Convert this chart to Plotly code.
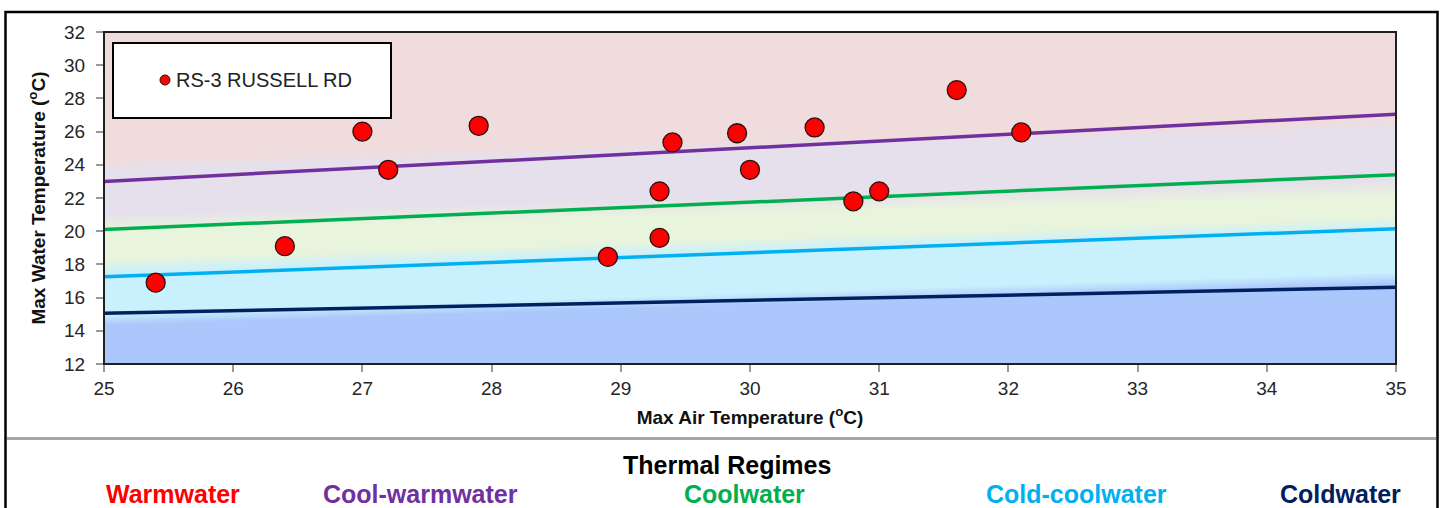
import numpy as np
import plotly.graph_objects as go

# Site observations: max air temperature vs max water temperature (deg C)
air_temp = [25.4, 26.4, 27.0, 27.2, 27.9, 28.9, 29.3, 29.3, 29.4, 29.9, 30.0, 30.5, 30.8, 31.0, 31.6, 32.1]
water_temp = [16.9, 19.1, 26.0, 23.7, 26.35, 18.45, 22.4, 19.6, 25.35, 25.9, 23.7, 26.25, 21.8, 22.4, 28.5, 25.95]
site_name = "RS-3 RUSSELL RD"

# Regime boundary lines, evaluated at the ends of the air-temperature axis
line_air = [25, 35]
regime_names = ["Warmwater", "Cool-warmwater", "Coolwater", "Cold-coolwater", "Coldwater"]
regime_colors = ["#ff0000", "#7030a0", "#00b050", "#00b0f0", "#002060"]
cool_warm_line = [23.0, 27.05]
cool_line = [20.1, 23.4]
cold_cool_line = [17.25, 20.15]
cold_line = [15.05, 16.62]

# Shaded background bands: (lower edge at 25, lower edge at 35, blend width)
band_edges = [
    (14.7, 17.2, 0.7),
    (17.9, 20.5, 0.8),
    (20.55, 22.6, 1.0),
    (24.0, 26.45, 0.6),
]
band_colors = ["#abc7fb", "#c9f0fd", "#e9f4dc", "#e5e0ec", "#f0dcdc"]

x_range = [25, 35]
y_range = [12, 32]
x_ticks = list(range(25, 36))
y_ticks = list(range(12, 33, 2))

# Background field: 0 = coldest band ... 4 = warmest band
gx = np.linspace(x_range[0], x_range[1], 121)
gy = np.linspace(y_range[0], y_range[1], 401)
XX, YY = np.meshgrid(gx, gy)
Z = np.zeros_like(XX)
for lo, hi, w in band_edges:
    edge = lo + (hi - lo) * (XX - x_range[0]) / (x_range[1] - x_range[0])
    Z += np.clip((YY - edge) / w + 0.5, 0, 1)
n = len(band_colors) - 1
colorscale = [[i / n, c] for i, c in enumerate(band_colors)]

fig = go.Figure()
fig.add_trace(go.Heatmap(
    x=gx, y=gy, z=Z, zmin=0, zmax=n, colorscale=colorscale,
    showscale=False, hoverinfo="skip", zsmooth="best",
))

for vals, color, name in [
    (cool_warm_line, regime_colors[1], regime_names[1]),
    (cool_line, regime_colors[2], regime_names[2]),
    (cold_cool_line, regime_colors[3], regime_names[3]),
    (cold_line, regime_colors[4], regime_names[4]),
]:
    fig.add_trace(go.Scatter(
        x=line_air, y=vals, mode="lines", name=name,
        line=dict(color=color, width=3.5), showlegend=False, hoverinfo="skip",
    ))

fig.add_trace(go.Scatter(
    x=air_temp, y=water_temp, mode="markers", name=site_name,
    marker=dict(size=19, color="#ff0000", line=dict(color="#2a1010", width=1.3)),
    showlegend=False,
))

W, H = 1445, 508
ml, mr, mt, mb = 104, 49, 32, 144
pw, ph = W - ml - mr, H - mt - mb


def px(x):
    return (x - ml) / pw


def py(y):
    return (H - mb - y) / ph


FONT = "Liberation Sans, Arial, sans-serif"
tick_font = dict(family=FONT, size=19, color="#262626")
title_font = dict(family=FONT, size=19, color="#111111")

fig.update_xaxes(
    range=x_range, tickvals=x_ticks, ticks="outside", ticklen=7, tickcolor="#9a9a9a",
    tickwidth=1.5, showgrid=True, gridcolor="#a3a3a3", gridwidth=1.5, zeroline=False,
    tickfont=tick_font, showline=False,
    title=dict(text="<b>Max Air Temperature (<sup>o</sup>C)</b>", font=title_font, standoff=12),
)
fig.update_yaxes(
    range=y_range, tickvals=y_ticks, ticks="outside", ticklen=7, tickcolor="#9a9a9a",
    tickwidth=1.5, showgrid=True, gridcolor="#a3a3a3", gridwidth=1.5, zeroline=False,
    tickfont=tick_font, showline=False, ticklabelstandoff=7,
    title=dict(text="<b>Max Water Temperature (<sup>o</sup>C)</b>", font=title_font, standoff=13),
)

shapes = [
    # plot area border
    dict(type="rect", xref="paper", yref="paper", x0=0, x1=1, y0=0, y1=1,
         line=dict(color="#202020", width=2), layer="above"),
    # legend box
    dict(type="rect", xref="paper", yref="paper", x0=px(113), x1=px(391), y0=py(118), y1=py(43),
         line=dict(color="#000000", width=2), fillcolor="#ffffff", layer="above"),
    dict(type="circle", xref="paper", yref="paper", x0=px(160), x1=px(170), y0=py(85), y1=py(75),
         line=dict(color="#2a1010", width=1), fillcolor="#ff0000", layer="above"),
    # outer frame
    dict(type="rect", xref="paper", yref="paper", x0=px(5.5), x1=px(1437.5), y0=py(560), y1=py(12),
         line=dict(color="#000000", width=2.5), layer="above"),
    # divider between chart and regime key
    dict(type="line", xref="paper", yref="paper", x0=px(7), x1=px(1436), y0=py(438.5), y1=py(438.5),
         line=dict(color="#a6a6a6", width=3), layer="above"),
]

annotations = [
    dict(text=site_name, xref="paper", yref="paper", x=px(174), y=py(80), xanchor="left",
         yanchor="middle", showarrow=False,
         font=dict(family=FONT, size=20, color="#222222")),
    dict(text="<b>Thermal Regimes</b>", xref="paper", yref="paper", x=px(727), y=py(465),
         xanchor="center", yanchor="middle", showarrow=False,
         font=dict(family=FONT, size=25, color="#000000")),
]
label_centers = [173, 420, 744, 1076, 1340]
for name, color, cx in zip(regime_names, regime_colors, label_centers):
    annotations.append(dict(
        text=f"<b>{name}</b>", xref="paper", yref="paper", x=px(cx), y=py(494),
        xanchor="center", yanchor="middle", showarrow=False,
        font=dict(family=FONT, size=25, color=color),
    ))

fig.update_layout(
    width=W, height=H, margin=dict(l=ml, r=mr, t=mt, b=mb),
    paper_bgcolor="#ffffff", plot_bgcolor="#ffffff",
    showlegend=False, shapes=shapes, annotations=annotations,
)

fig.write_html("out.html")
